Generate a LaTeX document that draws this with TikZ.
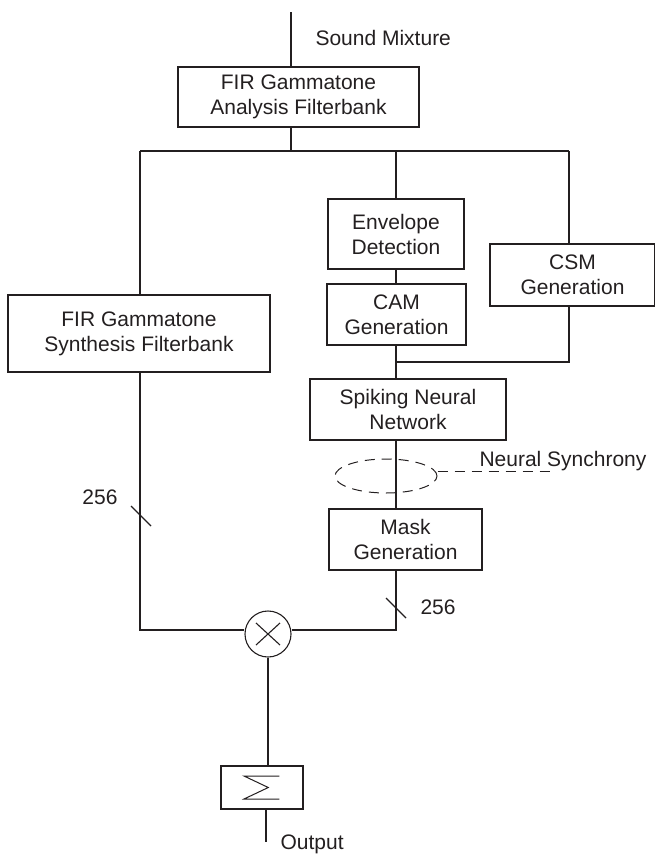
\documentclass[tikz,border=0pt]{standalone}
\usepackage{fontspec}
\setmainfont{Liberation Sans}
\usetikzlibrary{shapes.geometric}
\definecolor{ink}{HTML}{231F20}
\begin{document}
\begin{tikzpicture}[x=1pt,y=-1pt,line width=1.1pt,draw=ink,text=ink,
  txt/.style={font=\fontsize{21}{25}\selectfont},
  block/.style={draw=ink,txt,align=center,inner sep=0pt},
  lbl/.style={txt,inner sep=0pt},
  tick/.style={line width=1.1pt},
  syncdash/.style={dash pattern=on 10pt off 7pt,line width=1pt}]
\useasboundingbox (0,0) rectangle (655,854);

% processing blocks
\node[block,minimum width=241pt,minimum height=60pt] (ana) at (298.5,97) {FIR Gammatone\\Analysis Filterbank};
\node[block,minimum width=262pt,minimum height=77pt] (syn) at (139,333.5) {FIR Gammatone\\Synthesis Filterbank};
\node[block,minimum width=136pt,minimum height=70pt] (env) at (396,234) {Envelope\\Detection};
\node[block,minimum width=139pt,minimum height=61pt] (cam) at (396.5,314.5) {CAM\\Generation};
\node[block,minimum width=165pt,minimum height=62pt] (csm) at (572.5,275) {CSM\\Generation};
\node[block,minimum width=196pt,minimum height=61pt] (snn) at (408,409.5) {Spiking Neural\\Network};
\node[block,minimum width=153pt,minimum height=61pt] (mask) at (405.5,539.5) {Mask\\Generation};
\node[draw,circle,minimum size=46pt,inner sep=0pt] (mul) at (268,634) {};
\node[draw,minimum width=82pt,minimum height=43pt,inner sep=0pt] (sum) at (262,787.5) {};
\node[draw,ellipse,syncdash,minimum width=102pt,minimum height=34pt] (sync) at (386,476) {};

% routing points
\coordinate (in) at (291,12);
\coordinate (split) at (291,151);
\coordinate (lft) at (140,151);
\coordinate (rgt) at (569,151);
\coordinate (mid) at (396,151);
\coordinate (join) at (396,362);
\coordinate (lbot) at (140,630);
\coordinate (rbot) at (396,630);
\coordinate (out) at (266,842);
\coordinate (syncend) at (552,471);
\coordinate (tickL) at (141,516);
\coordinate (tickR) at (396,608);

% connectors
\draw (in) -- (in |- ana.north);
\draw (in |- ana.south) -- (split);
\draw (lft) -- (rgt);
\draw (lft) -- (lft |- syn.north);
\draw (lft |- syn.south) -- (lbot) -- (mul.west |- lbot);
\draw (mid) -- (mid |- env.north);
\draw (mid |- env.south) -- (mid |- cam.north);
\draw (mid |- cam.south) -- (mid |- snn.north);
\draw (rgt) -- (rgt |- csm.north);
\draw (rgt |- csm.south) -- (rgt |- join) -- (join);
\draw (mid |- snn.south) -- (mid |- mask.north);
\draw (mid |- mask.south) -- (rbot) -- (mul.east |- rbot);
\draw (mul.south) -- (mul.south |- sum.north);
\draw (out |- sum.south) -- (out);
\draw[syncdash] (sync.east |- syncend) -- (syncend);

% bus-width marks
\draw[tick] ([shift={(-10,-10)}]tickL) -- ([shift={(10,10)}]tickL);
\draw[tick] ([shift={(-10,-10)}]tickR) -- ([shift={(10,10)}]tickR);

% multiplier cross
\draw ([shift={(-12,-11)}]mul.center) -- ([shift={(12,11)}]mul.center);
\draw ([shift={(-12,11)}]mul.center) -- ([shift={(12,-11)}]mul.center);

% summation sign
\draw[line width=1pt] ([shift={(17.3,-11.5)}]sum.center) -- ([shift={(-18,-11.5)}]sum.center)
  -- ([shift={(6.3,0)}]sum.center) -- ([shift={(-18,11.5)}]sum.center)
  -- ([shift={(17.3,11.5)}]sum.center);

% labels
\node[lbl,anchor=west] (mixlbl) at (315,38) {Sound Mixture};
\node[lbl,anchor=base west] (synclbl) at (479,466) {Neural Synchrony};
\node[lbl] (nl) at (100,497) {256};
\node[lbl,anchor=west] (nr) at (420,607) {256};
\node[lbl,anchor=base west] (outlbl) at (280,849) {Output};
\end{tikzpicture}
\end{document}
